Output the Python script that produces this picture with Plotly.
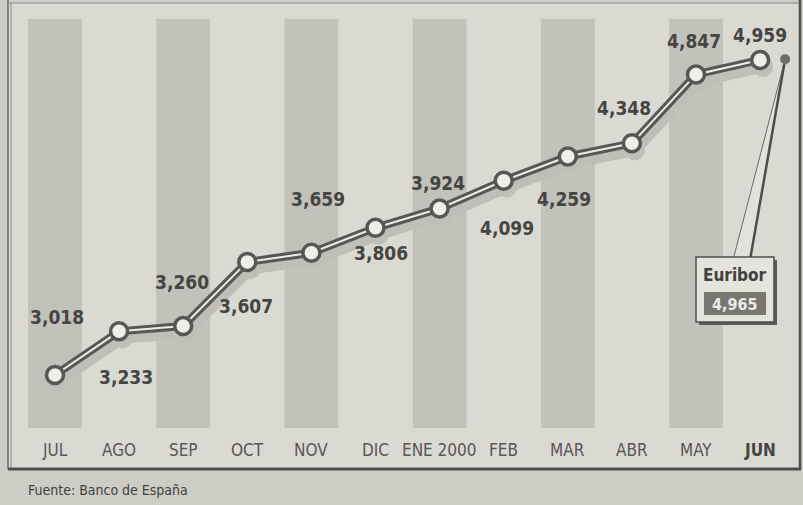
import math
import plotly.graph_objects as go

# ---------------- data ----------------
months = ["JUL", "AGO", "SEP", "OCT", "NOV", "DIC", "ENE 2000", "FEB", "MAR", "ABR", "MAY", "JUN"]
euribor_monthly = [3.018, 3.233, 3.260, 3.607, 3.659, 3.806, 3.924, 4.099, 4.259, 4.348, 4.847, 4.959]
euribor_latest_label = "Euribor"
euribor_latest = 4.965
source_text = "Fuente: Banco de España"

# ---------------- layout constants ----------------
W, H = 803, 505
X_RANGE = [-0.858, 11.669]
Y_RANGE_LOG = [0.39072, 0.73642]   # log10 range of the (log) value axis
FONT = "DejaVu Sans Condensed, Liberation Sans Narrow, Arial Narrow, DejaVu Sans, sans-serif"
BG_IN = "#dbdad2"
BG_OUT = "#cecdc5"
BAND = "#c2c1ba"
DARK = "#575755"
TEXT = "#454543"

# label offsets (pixels) relative to each point: (dx, dy up)
label_offsets = [(2, 58), (7, -46), (-1, 44), (-1, -44), (7, 54), (5, -25),
                 (-2, 25), (3, -47), (-4, -43), (-8, 35), (-2, 33), (0, 25)]


def xpaper(xd):
    return (xd - X_RANGE[0]) / (X_RANGE[1] - X_RANGE[0])


def ypaper(v):
    return (math.log10(v) - Y_RANGE_LOG[0]) / (Y_RANGE_LOG[1] - Y_RANGE_LOG[0])


xs = list(range(len(months)))
x_latest = len(months) - 1 + 0.39

# shadow offsets (3px right, 7px down)
sdx = 3 / W * (X_RANGE[1] - X_RANGE[0])
sfac = 10 ** (-7 / H * (Y_RANGE_LOG[1] - Y_RANGE_LOG[0]))

fig = go.Figure()

# shadow
fig.add_trace(go.Scatter(x=[x + sdx for x in xs], y=[v * sfac for v in euribor_monthly],
                         mode="lines+markers", line=dict(color="#c0bfb7", width=11),
                         marker=dict(size=20, color="#c0bfb7"), hoverinfo="skip", showlegend=False))
# dark line
fig.add_trace(go.Scatter(x=xs, y=euribor_monthly, mode="lines",
                         line=dict(color=DARK, width=8), hoverinfo="skip", showlegend=False))
# inner light line
fig.add_trace(go.Scatter(x=xs, y=euribor_monthly, mode="lines",
                         line=dict(color="#ecebe6", width=2), hoverinfo="skip", showlegend=False))
# markers
fig.add_trace(go.Scatter(x=xs, y=euribor_monthly, mode="markers",
                         marker=dict(size=17, color="#efeee9", line=dict(color=DARK, width=3.5)),
                         showlegend=False))
# latest euribor dot
fig.add_trace(go.Scatter(x=[x_latest], y=[euribor_latest], mode="markers",
                         marker=dict(size=10, color="#6e6e6a"), showlegend=False))

P = dict(xref="paper", yref="paper", layer="below")
shapes = []
# inner framed area
shapes.append(dict(type="rect", x0=8 / W, x1=800 / W, y0=1 - 469 / H, y1=1 - 3 / H,
                   fillcolor=BG_IN, line=dict(width=0), **P))
# bands
for i in range(0, len(months), 2):
    shapes.append(dict(type="rect", x0=xpaper(i - 0.42), x1=xpaper(i + 0.42),
                       y0=1 - 428 / H, y1=1 - 19 / H, fillcolor=BAND, line=dict(width=0), **P))
# frame lines
shapes.append(dict(type="line", x0=8 / W, x1=8 / W, y0=1 - 469 / H, y1=1,
                   line=dict(color="#6a6a66", width=1.5), **P))
shapes.append(dict(type="line", x0=11 / W, x1=11 / W, y0=1 - 469 / H, y1=1 - 3 / H,
                   line=dict(color="#8a8a86", width=1), **P))
shapes.append(dict(type="line", x0=8 / W, x1=800 / W, y0=1 - 3 / H, y1=1 - 3 / H,
                   line=dict(color="#8a8a86", width=1), **P))
shapes.append(dict(type="line", x0=800 / W, x1=800 / W, y0=1 - 470 / H, y1=1,
                   line=dict(color="#4e4e4b", width=2.5), **P))
shapes.append(dict(type="line", x0=8 / W, x1=801 / W, y0=1 - 469 / H, y1=1 - 469 / H,
                   line=dict(color="#4e4e4b", width=3), **P))

# wedge from latest dot to box
ax_, ay_ = xpaper(x_latest), ypaper(euribor_latest)
shapes.append(dict(type="path",
                   path=f"M {ax_},{ay_} L {733 / W},{1 - 260 / H} L {750 / W},{1 - 260 / H} Z",
                   fillcolor="#e2e1da", line=dict(color="#6a6a66", width=1), **P))
shapes.append(dict(type="line", x0=ax_, y0=ay_, x1=750 / W, y1=1 - 260 / H,
                   line=dict(color="#4e4e4b", width=2.5), **P))
# box shadow + box
shapes.append(dict(type="rect", x0=699 / W, x1=777 / W, y0=1 - 325 / H, y1=1 - 260 / H,
                   fillcolor="#5a5a57", line=dict(width=0), **P))
shapes.append(dict(type="rect", x0=696 / W, x1=774 / W, y0=1 - 322 / H, y1=1 - 257 / H,
                   fillcolor="#e4e3dc", line=dict(color="#4e4e4b", width=1.5), **P))
shapes.append(dict(type="rect", x0=704 / W, x1=766 / W, y0=1 - 315 / H, y1=1 - 292 / H,
                   fillcolor="#77776f", line=dict(width=0), **P))

annotations = []
# value labels (log axis: annotation y in log10 units)
for x, v, (dx, dy) in zip(xs, euribor_monthly, label_offsets):
    annotations.append(dict(x=x, y=math.log10(v), xref="x", yref="y", text=f"{v:.3f}".replace(".", ","),
                            showarrow=False, xshift=dx, yshift=dy, xanchor="center", yanchor="middle",
                            font=dict(family=FONT, size=19, color=TEXT, weight="bold")))
# month tick labels
for i, m in enumerate(months):
    last = i == len(months) - 1
    annotations.append(dict(x=i, y=1 - 450 / H, xref="x", yref="paper", text=m, showarrow=False,
                            xanchor="center", yanchor="middle",
                            font=dict(family=FONT, size=17, color="#454543" if last else "#575755",
                                      weight="bold" if last else "normal")))
# box texts
annotations.append(dict(x=735 / W, y=1 - 275 / H, xref="paper", yref="paper", text=euribor_latest_label,
                        showarrow=False, xanchor="center", yanchor="middle",
                        font=dict(family=FONT, size=17, color="#404040", weight="bold")))
annotations.append(dict(x=735 / W, y=1 - 304 / H, xref="paper", yref="paper",
                        text=f"{euribor_latest:.3f}".replace(".", ","), showarrow=False,
                        xanchor="center", yanchor="middle",
                        font=dict(family=FONT, size=16, color="#ecebe6", weight="bold")))
# source
annotations.append(dict(x=26 / W, y=1 - 490 / H, xref="paper", yref="paper", text=source_text,
                        showarrow=False, xanchor="left", yanchor="middle",
                        font=dict(family=FONT, size=14, color="#404040")))

fig.update_layout(
    width=W, height=H, margin=dict(l=0, r=0, t=0, b=0),
    paper_bgcolor=BG_OUT, plot_bgcolor="rgba(0,0,0,0)",
    xaxis=dict(range=X_RANGE, visible=False, fixedrange=True),
    yaxis=dict(type="log", range=Y_RANGE_LOG, visible=False, fixedrange=True),
    shapes=shapes, annotations=annotations, showlegend=False,
)

fig.write_html("out.html", config={"displayModeBar": False},
               post_script="document.body.style.margin='0';document.body.style.overflow='hidden';")
